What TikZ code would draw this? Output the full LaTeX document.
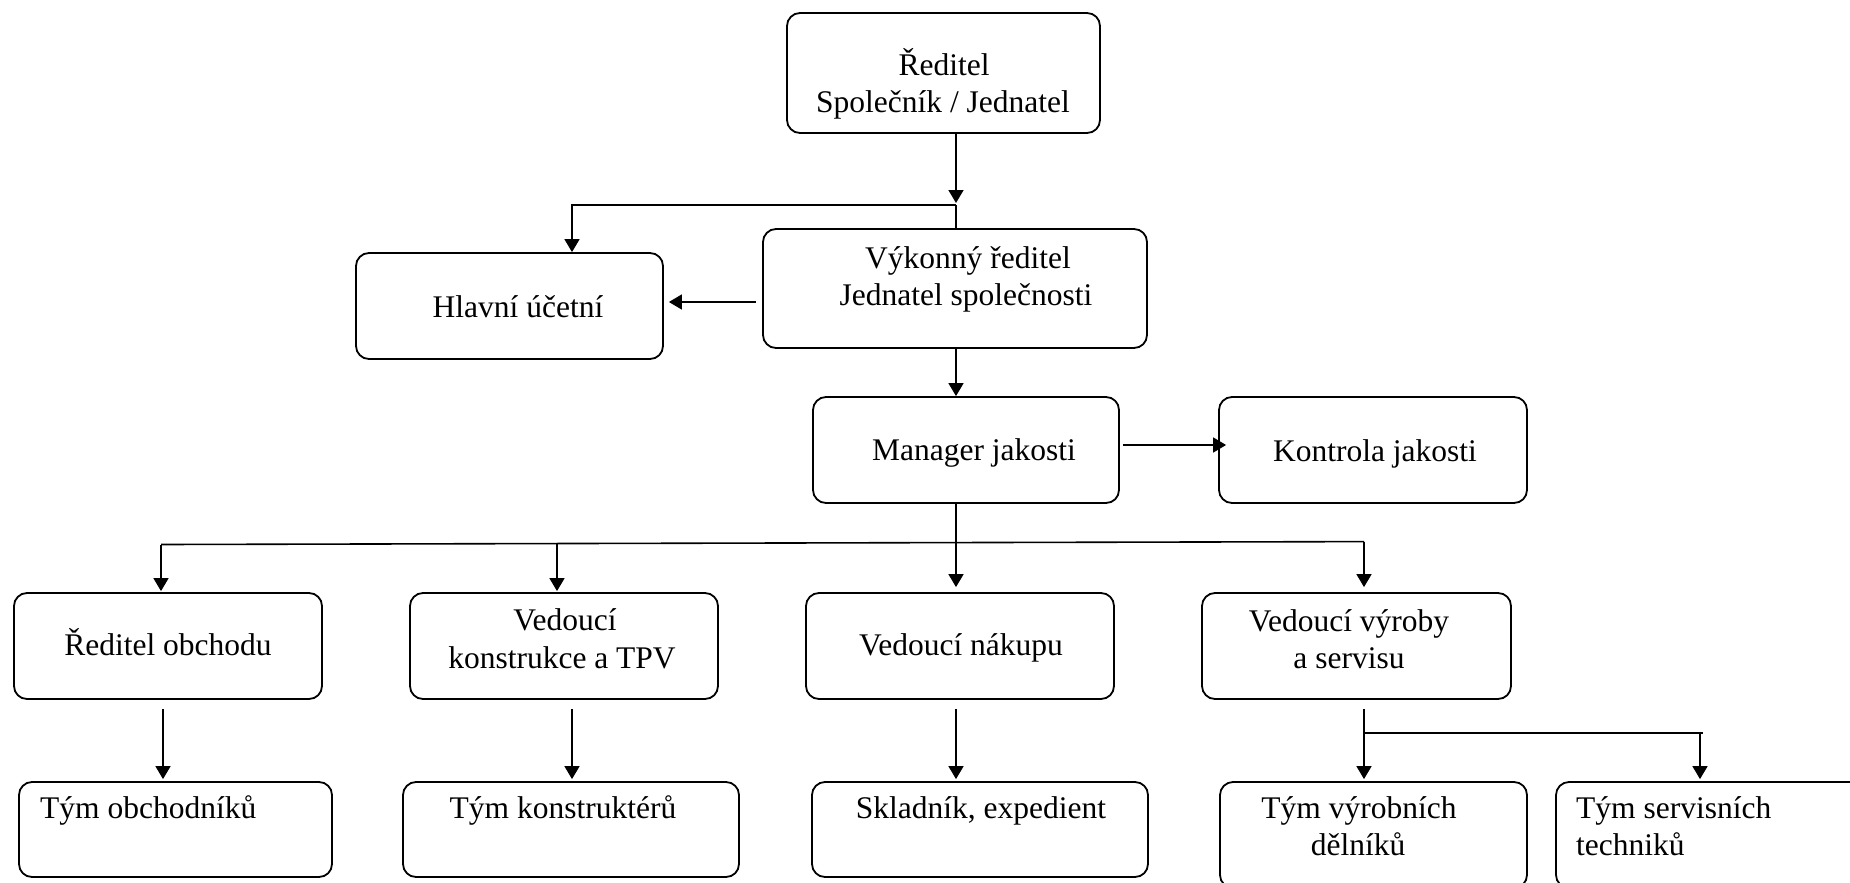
\documentclass[tikz,border=0pt]{standalone}
\usepackage{fontspec}
\setmainfont{Liberation Serif}
\usetikzlibrary{arrows.meta,calc}
\tikzset{
  box/.style={draw=black, line width=1.8pt, rounded corners=13pt, inner sep=0pt, fill=white},
  txt/.style={inner sep=0pt, anchor=base, font=\fontsize{31.5}{37}\selectfont},
  txtl/.style={txt, anchor=base west},
  ln/.style={draw=black, line width=1.6pt},
  arr/.style={ln, -{Triangle[length=13pt,width=15pt]}},
}
\begin{document}
\begin{tikzpicture}[x=1pt,y=1pt]
\useasboundingbox[fill=white] (0,0) rectangle (1850,-883);
% boxes
\node[box, minimum width=313pt, minimum height=120pt] (reditel) at (943.5,-73) {};
\node[box, minimum width=307pt, minimum height=106pt] (hlavni) at (509.5,-306) {};
\node[box, minimum width=384pt, minimum height=119pt] (vykonny) at (955,-288.5) {};
\node[box, minimum width=306pt, minimum height=106pt] (manager) at (966,-450) {};
\node[box, minimum width=308pt, minimum height=106pt] (kontrola) at (1373,-450) {};
\node[box, minimum width=308pt, minimum height=106pt] (robchod) at (168,-646) {};
\node[box, minimum width=308pt, minimum height=106pt] (vkonstr) at (564,-646) {};
\node[box, minimum width=308pt, minimum height=106pt] (vnakup) at (960,-646) {};
\node[box, minimum width=309pt, minimum height=106pt] (vvyroby) at (1356.5,-646) {};
\node[box, minimum width=313pt, minimum height=95pt] (tobch) at (175.5,-829.5) {};
\node[box, minimum width=336pt, minimum height=95pt] (tkonstr) at (571,-829.5) {};
\node[box, minimum width=336pt, minimum height=95pt] (sklad) at (980,-829.5) {};
\node[box, minimum width=307pt, minimum height=106pt] (tvyrob) at (1373.5,-835) {};
\node[box, minimum width=324pt, minimum height=106pt] (tserv) at (1718,-835) {};
% texts
\node[txt] (t1a) at (944,-75) {Ředitel};
\node[txt] (t1b) at (943,-112) {Společník / Jednatel};
\node[txt] (t2a) at (968,-268) {Výkonný ředitel};
\node[txt] (t2b) at (966,-305) {Jednatel společnosti};
\node[txt] (t3) at (518,-317) {Hlavní účetní};
\node[txt] (t4) at (974,-460) {Manager jakosti};
\node[txt] (t5) at (1375,-461) {Kontrola jakosti};
\node[txt] (t6) at (168,-655) {Ředitel obchodu};
\node[txt] (t7a) at (565,-630) {Vedoucí};
\node[txt] (t7b) at (562,-668) {konstrukce a TPV};
\node[txt] (t8) at (961,-655) {Vedoucí nákupu};
\node[txt] (t9a) at (1349,-631) {Vedoucí výroby};
\node[txt] (t9b) at (1349,-668) {a servisu};
\node[txtl] (t10) at (40,-818) {Tým obchodníků};
\node[txt] (t11) at (563,-818) {Tým konstruktérů};
\node[txt] (t12) at (981,-818) {Skladník, expedient};
\node[txt] (t13a) at (1359,-818) {Tým výrobních};
\node[txt] (t13b) at (1358,-855) {dělníků};
\node[txtl] (t14a) at (1576,-818) {Tým servisních};
\node[txtl] (t14b) at (1576,-855) {techniků};
% junction coordinates
\coordinate (j1) at (956,-205);
\coordinate (j1h) at (572,-205);
\coordinate (a2) at (756,-302);
\coordinate (a4) at (1123,-445);
\coordinate (j2) at (956,-542.6);
\coordinate (b1) at (161,-544.5);
\coordinate (b2) at (557,-543.6);
\coordinate (b4) at (1364,-541.6);
\coordinate (c1) at (163,-709);
\coordinate (c2) at (572,-709);
\coordinate (c3) at (956,-709);
\coordinate (c4) at (1364,-709);
\coordinate (d4) at (1364,-733);
\coordinate (d5) at (1703,-733);
\coordinate (d6) at (1700,-733);
% connectors
\draw[arr] (reditel.south -| j1) -- ($(j1)+(0,2)$);
\draw[ln] (j1) -- (vykonny.north -| j1);
\draw[arr] (j1) -- (j1h) -- (j1h |- hlavni.north);
\draw[arr] (a2) -- ($(hlavni.east |- a2)+(5,0)$);
\draw[arr] (vykonny.south -| j1) -- (manager.north -| j1);
\draw[arr] (a4) -- ($(kontrola.west |- a4)+(8,0)$);
\draw[ln] (manager.south -| j2) -- (j2);
\draw[ln] (b1) -- (b4);
\draw[arr] (b1) -- ($(robchod.north -| b1)+(0,1)$);
\draw[arr] (b2) -- ($(vkonstr.north -| b2)+(0,1)$);
\draw[arr] (j2) -- ($(vnakup.north -| j2)+(0,5)$);
\draw[arr] (b4) -- ($(vvyroby.north -| b4)+(0,5)$);
\draw[arr] (c1) -- ($(tobch.north -| c1)+(0,2)$);
\draw[arr] (c2) -- ($(tkonstr.north -| c2)+(0,2)$);
\draw[arr] (c3) -- ($(sklad.north -| c3)+(0,2)$);
\draw[arr] (c4) -- ($(tvyrob.north -| c4)+(0,2)$);
\draw[ln] (d4) -- (d5);
\draw[arr] (d6) -- ($(tserv.north -| d6)+(0,2)$);
\end{tikzpicture}
\end{document}
